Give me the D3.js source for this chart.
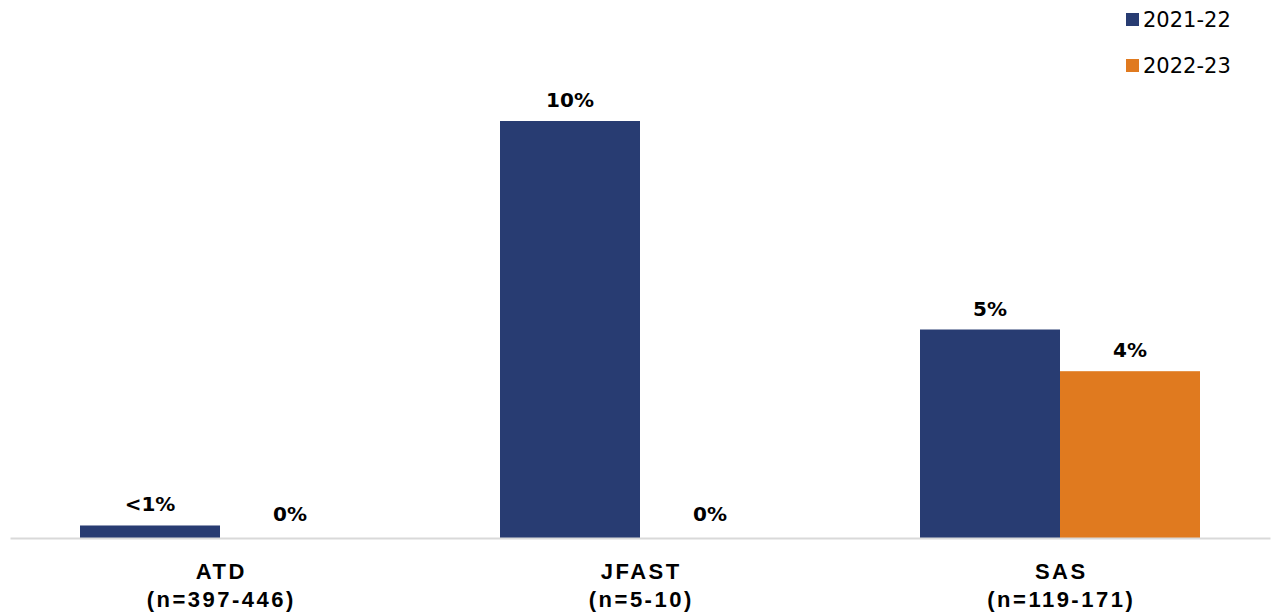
<!DOCTYPE html>
<html>
<head>
<meta charset="utf-8">
<script src="https://cdn.jsdelivr.net/npm/d3@7"></script>
<style>
  html, body { margin: 0; padding: 0; background: #fff; }
  svg { display: block; font-family: "DejaVu Sans", "Open Sans", sans-serif; }
</style>
</head>
<body>
<svg id="chart" width="1276" height="614"></svg>
<script>
// Program categories (two-line axis labels)
const categories = ["ATD", "JFAST", "SAS"];
const categorySizes = ["(n=397-446)", "(n=5-10)", "(n=119-171)"];

// Fiscal-year series
const seriesNames = ["2021-22", "2022-23"];
const values2122 = [0.3, 10, 5];
const values2223 = [0, 0, 4];
const labels2122 = ["<1%", "10%", "5%"];
const labels2223 = ["0%", "0%", "4%"];
const seriesColors = ["#283c72", "#e07a1f"];

const svg = d3.select("#chart");
const baseline = 538;

const x0 = d3.scaleBand().domain(categories).range([10, 1270]).paddingInner(0).paddingOuter(0);
const x1 = d3.scaleBand().domain(seriesNames).range([0, x0.bandwidth()]).paddingInner(0).paddingOuter(0.5);
const y = d3.scaleLinear().domain([0, 10]).range([baseline, 121]);

const rows = categories.map((c, i) => ({
  cat: c,
  bars: [
    { s: seriesNames[0], v: values2122[i], label: labels2122[i], color: seriesColors[0] },
    { s: seriesNames[1], v: values2223[i], label: labels2223[i], color: seriesColors[1] }
  ]
}));

const groups = svg.selectAll("g.group").data(rows).join("g")
  .attr("class", "group")
  .attr("transform", d => `translate(${x0(d.cat)},0)`);

groups.selectAll("rect").data(d => d.bars).join("rect")
  .attr("x", d => x1(d.s))
  .attr("y", d => y(d.v))
  .attr("width", x1.bandwidth())
  .attr("height", d => baseline - y(d.v))
  .attr("fill", d => d.color);

groups.selectAll("text.val").data(d => d.bars).join("text")
  .attr("class", "val")
  .attr("x", d => x1(d.s) + x1.bandwidth() / 2)
  .attr("y", d => y(d.v) - (d.v === 0 ? 17 : 14))
  .attr("text-anchor", "middle")
  .attr("font-size", 20)
  .attr("font-weight", 700)
  .attr("fill", "#000")
  .text(d => d.label);

// Category axis
const xAxis = svg.append("g").attr("transform", `translate(0,${baseline})`)
  .call(d3.axisBottom(x0).tickSize(0).tickFormat(""));
xAxis.select(".domain").attr("stroke", "#d9d9d9").attr("stroke-width", 2);

const ticks = xAxis.selectAll(".tick");
const axisLabel = sel => sel
  .attr("text-anchor", "middle")
  .attr("dx", 1.25)
  .attr("font-size", 22)
  .attr("font-weight", 700)
  .attr("letter-spacing", 2.5)
  .attr("fill", "#000");
ticks.append("text").attr("y", 41).call(axisLabel).text(d => d);
ticks.append("text").attr("y", 69).call(axisLabel)
  .text(d => categorySizes[categories.indexOf(d)]);

// Legend
const legend = svg.append("g").attr("transform", "translate(1126,13)");
const items = legend.selectAll("g").data(seriesNames).join("g")
  .attr("transform", (d, i) => `translate(0,${i * 46})`);
items.append("rect").attr("width", 13).attr("height", 13)
  .attr("fill", (d, i) => seriesColors[i]);
items.append("text").attr("x", 17).attr("y", 14)
  .attr("font-size", 21).attr("fill", "#000")
  .text(d => d);
</script>
</body>
</html>
